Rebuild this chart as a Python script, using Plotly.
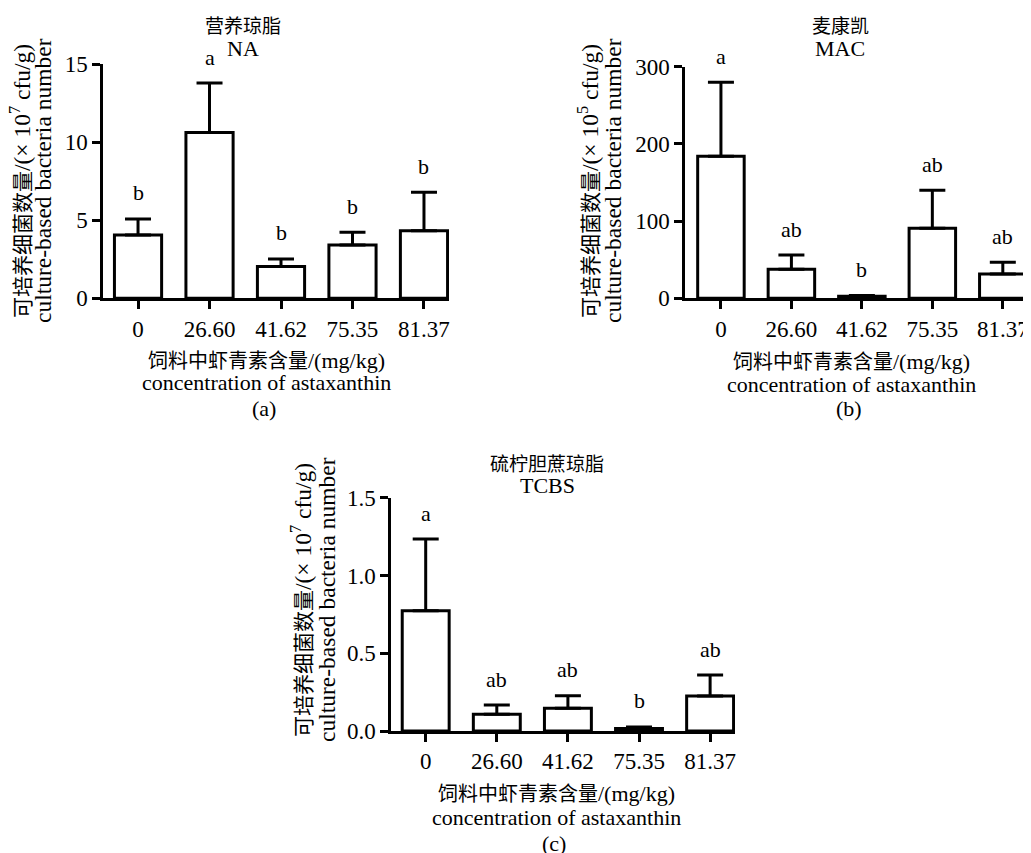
import plotly.graph_objects as go

# page body has an 8px default margin; figure is sized so it fills the window
OFF = 8
W, H = 1031 - OFF, 853 - OFF

categories = ["0", "26.60", "41.62", "75.35", "81.37"]

na_mean = [4.06, 10.62, 2.03, 3.42, 4.33]
na_err = [1.02, 3.16, 0.49, 0.81, 2.46]
na_letters = ["b", "a", "b", "b", "b"]

mac_mean = [184, 37.6, 2.5, 90.7, 31.5]
mac_err = [95.8, 18.4, 1.0, 49.3, 15.1]
mac_letters = ["a", "ab", "b", "ab", "ab"]

tcbs_mean = [0.773, 0.107, 0.146, 0.016, 0.225]
tcbs_err = [0.461, 0.060, 0.081, 0.010, 0.135]
tcbs_letters = ["a", "ab", "ab", "b", "ab"]

SERIF = "Liberation Serif, Times New Roman, serif"
CJK = "Noto Sans CJK SC"


def cjk(s, size):
    return f'<span style="font-family:{CJK};font-size:{size}px">{s}</span>'


ylabel_cn_7 = cjk("可培养细菌数量", 21) + "/(× 10<sup>7</sup> cfu/g)"
ylabel_cn_5 = cjk("可培养细菌数量", 21) + "/(× 10<sup>5</sup> cfu/g)"
ylabel_en = "culture-based bacteria number"
xlabel_cn = cjk("饲料中虾青素含量", 20) + "/(mg/kg)"
xlabel_en = "concentration of astaxanthin"


def px(x):
    return (x - OFF) / W


def py(y):
    return 1 - (y - OFF) / H


fig = go.Figure()

panels = [
    dict(mean=na_mean, err=na_err, letters=na_letters, ax="",
         xdom=[px(103), px(449)], ydom=[py(298.3), py(64)], xr=[-0.49, 4.35],
         yr=[0, 15], ytick=[0, 5, 10, 15], yfmt="d",
         t1=cjk("营养琼脂", 19), t2="NA", tx=243, ty1=24, ty2=48,
         ylab=ylabel_cn_7, yl1=20, yl2=43, yly=181,
         xl=266, xly1=359, xly2=382, tag="(a)", tagy=409),
    dict(mean=mac_mean, err=mac_err, letters=mac_letters, ax="2",
         xdom=[px(685), 1.0], ydom=[py(298.3), py(66.7)], xr=[-0.51, 4.40],
         yr=[0, 300], ytick=[0, 100, 200, 300], yfmt="d",
         t1=cjk("麦康凯", 19), t2="MAC", tx=840, ty1=24, ty2=48,
         ylab=ylabel_cn_5, yl1=588, yl2=613, yly=181,
         xl=851, xly1=360, xly2=384, tag="(b)", tagy=409),
    dict(mean=tcbs_mean, err=tcbs_err, letters=tcbs_letters, ax="3",
         xdom=[px(391), px(735)], ydom=[py(731), py(497.7)], xr=[-0.488, 4.35],
         yr=[0, 1.5], ytick=[0, 0.5, 1.0, 1.5], yfmt=".1f",
         t1=cjk("硫柠胆蔗琼脂", 19), t2="TCBS", tx=547, ty1=462, ty2=485,
         ylab=ylabel_cn_7, yl1=301, yl2=327, yly=600,
         xl=556, xly1=792, xly2=817, tag="(c)", tagy=843),
]

annotations = []


def text(x, y, s, size, angle=0):
    annotations.append(dict(x=px(x), y=py(y), xref="paper", yref="paper",
                            text=s, showarrow=False, xanchor="center", yanchor="middle",
                            textangle=angle,
                            font=dict(family=SERIF, size=size, color="black")))


for p in panels:
    ax = p["ax"]
    fig.add_trace(go.Bar(
        x=categories, y=p["mean"], width=0.66,
        marker=dict(color="white", line=dict(color="black", width=3)),
        error_y=dict(type="data", array=p["err"], arrayminus=[0] * 5,
                     symmetric=False, color="black", thickness=3, width=13),
        xaxis="x" + ax, yaxis="y" + ax, showlegend=False,
    ))
    common = dict(showline=True, linecolor="black", linewidth=2.5,
                  ticks="outside", tickcolor="black", tickwidth=2.5, ticklen=8,
                  showgrid=False, zeroline=False, automargin=False,
                  tickfont=dict(family=SERIF, size=23, color="black"))
    fig.layout["xaxis" + ax] = dict(domain=p["xdom"], range=p["xr"], type="category",
                                    anchor="y" + ax, **common)
    fig.layout["yaxis" + ax] = dict(domain=p["ydom"], range=p["yr"], tickvals=p["ytick"],
                                    tickformat=p["yfmt"], anchor="x" + ax, **common)
    for i, (m, e, l) in enumerate(zip(p["mean"], p["err"], p["letters"])):
        annotations.append(dict(x=i, y=m + e, xref="x" + ax, yref="y" + ax, text=l,
                                showarrow=False, yanchor="middle", yshift=26,
                                font=dict(family=SERIF, size=22, color="black")))
    text(p["tx"], p["ty1"], p["t1"], 22)
    text(p["tx"], p["ty2"], p["t2"], 22)
    text(p["yl1"], p["yly"], p["ylab"], 23.5, -90)
    text(p["yl2"], p["yly"], ylabel_en, 23.5, -90)
    text(p["xl"], p["xly1"], xlabel_cn, 22)
    text(p["xl"], p["xly2"], xlabel_en, 22)
    text(p["xl"] - 2, p["tagy"], p["tag"], 22)

fig.update_layout(
    width=W, height=H, margin=dict(l=0, r=0, t=0, b=0, pad=0, autoexpand=False),
    plot_bgcolor="white", paper_bgcolor="white",
    annotations=annotations, bargap=0.3,
    font=dict(family=SERIF, color="black"),
)

fig.write_html("out.html")
